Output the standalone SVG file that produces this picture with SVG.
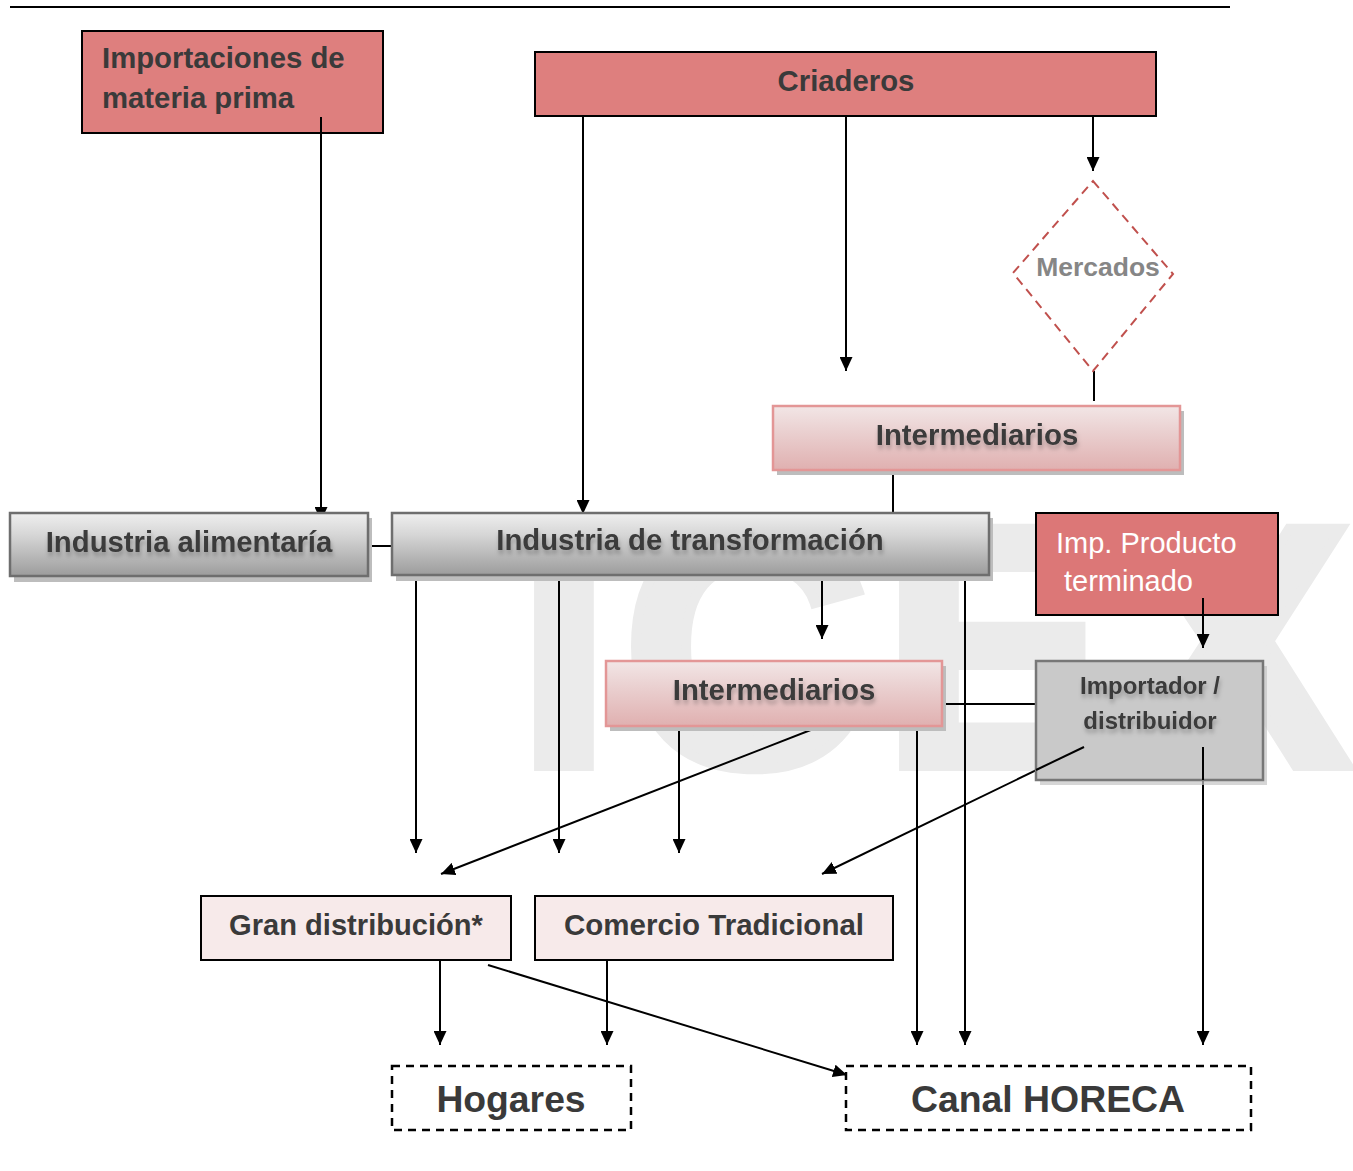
<svg xmlns="http://www.w3.org/2000/svg" width="1353" height="1171" viewBox="0 0 1353 1171">
<defs>
<linearGradient id="gGray" x1="0" y1="0" x2="0" y2="1">
<stop offset="0" stop-color="#efefef"/><stop offset="0.35" stop-color="#d6d6d6"/><stop offset="1" stop-color="#9c9c9c"/>
</linearGradient>
<linearGradient id="gPink" x1="0" y1="0" x2="0" y2="1">
<stop offset="0" stop-color="#f2e6e6"/><stop offset="0.4" stop-color="#ead0d0"/><stop offset="1" stop-color="#e0b0b0"/>
</linearGradient>
<filter id="tsh" x="-10%" y="-30%" width="120%" height="180%">
<feDropShadow dx="1" dy="4" stdDeviation="2" flood-color="#000" flood-opacity="0.25"/>
</filter>
<marker id="arr" markerUnits="userSpaceOnUse" markerWidth="14" markerHeight="13" refX="14" refY="6.5" orient="auto">
<path d="M0,0 L14,6.5 L0,13 z" fill="#000"/>
</marker>
</defs>
<style>
.t{font-family:"Liberation Sans",Arial,sans-serif;font-weight:bold;fill:#3a3a3a}
.red{fill:#de7f7e;stroke:#000;stroke-width:2}
.sh{fill:#bdbdbd}
.gray{fill:url(#gGray);stroke:#6e6e6e;stroke-width:2.5}
.pink{fill:url(#gPink);stroke:#e39696;stroke-width:2.5}
.light{fill:#f7eaea;stroke:#000;stroke-width:2}
.dash{fill:#fff;stroke:#000;stroke-width:2.5;stroke-dasharray:8,6}
.c line,.c path{stroke:#000;stroke-width:2;fill:none}
.a{marker-end:url(#arr)}
</style>
<rect width="1353" height="1171" fill="#fff"/>
<line x1="10" y1="7" x2="1230" y2="7" stroke="#000" stroke-width="2"/>
<text x="516" y="766" font-family="Liberation Sans,Arial,sans-serif" font-weight="bold" font-size="345" letter-spacing="10" fill="#ebebeb" stroke="#ebebeb" stroke-width="10" stroke-linejoin="miter">ICEX</text>

<g class="c" id="connectors">
<line class="a" x1="321" y1="117" x2="321" y2="521"/>
<line class="a" x1="583" y1="116" x2="583" y2="514"/>
<line class="a" x1="846" y1="116" x2="846" y2="371"/>
<line class="a" x1="1093" y1="116" x2="1093" y2="171"/>
<line x1="1094" y1="371" x2="1094" y2="401"/>
<line x1="893" y1="470" x2="893" y2="513"/>
<line x1="368" y1="546" x2="392" y2="546"/>
<line class="a" x1="416" y1="575" x2="416" y2="853"/>
<line class="a" x1="559" y1="575" x2="559" y2="853"/>
<line class="a" x1="822" y1="575" x2="822" y2="639"/>
<line class="a" x1="965" y1="575" x2="965" y2="1045"/>
<line class="a" x1="1203" y1="598" x2="1203" y2="648"/>
<line x1="942" y1="704" x2="1036" y2="704"/>
<line class="a" x1="679" y1="726" x2="679" y2="853"/>
<line class="a" x1="821" y1="726" x2="441" y2="874"/>
<line class="a" x1="917" y1="726" x2="917" y2="1045"/>
<line class="a" x1="1084" y1="747" x2="822" y2="874"/>
<line class="a" x1="1203" y1="747" x2="1203" y2="1045"/>
<line class="a" x1="440" y1="960" x2="440" y2="1045"/>
<line class="a" x1="607" y1="960" x2="607" y2="1045"/>
<line class="a" x1="488" y1="965" x2="847" y2="1075"/>
</g>

<g id="importaciones">
<rect class="red" x="82" y="31" width="301" height="102"/>
<text class="t" x="102" y="68" font-size="29.3">Importaciones de</text>
<text class="t" x="102" y="108" font-size="29.3">materia prima</text>
</g>
<line x1="321" y1="117" x2="321" y2="133" stroke="#000" stroke-width="2"/>

<g id="criaderos">
<rect class="red" x="535" y="52" width="621" height="64"/>
<text class="t" x="846" y="91" font-size="29.3" text-anchor="middle">Criaderos</text>
</g>

<g id="mercados">
<path d="M1093,181 L1173,274 L1093,371 L1013,273 z" fill="none" stroke="#c0504d" stroke-width="2" stroke-dasharray="9,6"/>
<text x="1098" y="276" font-family="Liberation Sans,Arial,sans-serif" font-weight="bold" font-size="26.5" fill="#868686" text-anchor="middle">Mercados</text>
</g>

<g id="intermediarios1">
<rect class="sh" x="777" y="411" width="407" height="64"/>
<rect class="pink" x="773" y="406" width="407" height="64"/>
<text class="t" x="977" y="445" font-size="29.4" text-anchor="middle" filter="url(#tsh)">Intermediarios</text>
</g>

<g id="industria-alimentaria">
<rect class="sh" x="14" y="518" width="358" height="64"/>
<rect class="gray" x="10" y="513" width="358" height="63"/>
<text class="t" x="189" y="552" font-size="29.3" text-anchor="middle" filter="url(#tsh)">Industria alimentaría</text>
</g>

<g id="industria-transformacion">
<rect class="sh" x="396" y="518" width="597" height="63"/>
<rect class="gray" x="392" y="513" width="597" height="62"/>
<text class="t" x="690" y="550" font-size="29.3" text-anchor="middle" filter="url(#tsh)">Industria de transformación</text>
</g>

<g id="imp-producto">
<rect x="1036" y="513" width="242" height="102" fill="#dc7777" stroke="#000" stroke-width="2"/>
<text x="1056" y="553" font-family="Liberation Sans,Arial,sans-serif" font-size="29" fill="#fff">Imp. Producto</text>
<text x="1064" y="591" font-family="Liberation Sans,Arial,sans-serif" font-size="29" fill="#fff">terminado</text>
</g>
<line x1="1203" y1="598" x2="1203" y2="615" stroke="#000" stroke-width="2"/>

<g id="intermediarios2">
<rect class="sh" x="610" y="666" width="336" height="65"/>
<rect class="pink" x="606" y="661" width="336" height="65"/>
<text class="t" x="774" y="700" font-size="29.4" text-anchor="middle" filter="url(#tsh)">Intermediarios</text>
</g>

<g id="importador">
<rect x="1040" y="666" width="227" height="119" fill="#c4c4c4" opacity="0.7"/>
<rect x="1036" y="661" width="227" height="119" fill="#c9c9c9" stroke="#777" stroke-width="2.5"/>
<text class="t" x="1150" y="694" font-size="24" text-anchor="middle" filter="url(#tsh)">Importador /</text>
<text class="t" x="1150" y="729" font-size="24" text-anchor="middle" filter="url(#tsh)">distribuidor</text>
</g>
<line x1="1084" y1="747" x2="1036" y2="770" stroke="#000" stroke-width="2"/>
<line x1="1203" y1="747" x2="1203" y2="780" stroke="#000" stroke-width="2"/>

<g id="gran-distribucion">
<rect class="light" x="201" y="896" width="310" height="64"/>
<text class="t" x="356" y="935" font-size="29.1" text-anchor="middle">Gran distribución*</text>
</g>

<g id="comercio-tradicional">
<rect class="light" x="535" y="896" width="358" height="64"/>
<text class="t" x="714" y="935" font-size="29.5" text-anchor="middle">Comercio Tradicional</text>
</g>

<g id="hogares">
<rect class="dash" x="392" y="1066" width="239" height="64"/>
<text class="t" x="511" y="1112" font-size="37.3" text-anchor="middle">Hogares</text>
</g>

<g id="canal-horeca">
<rect class="dash" x="846" y="1066" width="405" height="64" fill="none"/>
<text class="t" x="1048" y="1112" font-size="37.4" text-anchor="middle">Canal HORECA</text>
</g>
</svg>
